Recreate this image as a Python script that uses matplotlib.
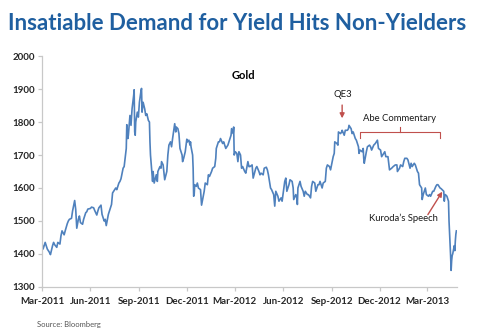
import matplotlib
matplotlib.use("Agg")
import matplotlib.pyplot as plt
import matplotlib.dates as mdates
import pandas as pd

plt.rcParams['font.family'] = ['Lato', 'DejaVu Sans']

# gold price (approx. every 2-3 trading days)
dates = [
    # 2011
    "2011-03-01", "2011-03-03", "2011-03-07", "2011-03-09", "2011-03-11", "2011-03-15", "2011-03-17",
    "2011-03-21", "2011-03-23", "2011-03-25", "2011-03-29", "2011-03-31",
    "2011-04-04", "2011-04-06", "2011-04-08", "2011-04-12", "2011-04-14", "2011-04-18", "2011-04-20",
    "2011-04-22", "2011-04-26", "2011-04-28", "2011-05-02",
    "2011-05-04", "2011-05-06", "2011-05-09", "2011-05-11", "2011-05-13", "2011-05-17", "2011-05-19",
    "2011-05-23", "2011-05-25", "2011-05-27",
    "2011-06-01", "2011-06-03", "2011-06-07", "2011-06-09", "2011-06-13", "2011-06-15", "2011-06-17",
    "2011-06-21", "2011-06-23", "2011-06-27", "2011-06-29", "2011-07-01",
    "2011-07-05", "2011-07-07", "2011-07-11", "2011-07-13", "2011-07-15", "2011-07-19", "2011-07-21",
    "2011-07-25", "2011-07-27", "2011-07-29",
    "2011-08-02", "2011-08-04", "2011-08-08", "2011-08-09", "2011-08-11", "2011-08-12", "2011-08-15",
    "2011-08-17", "2011-08-19", "2011-08-22", "2011-08-23", "2011-08-24", "2011-08-25", "2011-08-26",
    "2011-08-29", "2011-08-31", "2011-09-02",
    "2011-09-05", "2011-09-06", "2011-09-07", "2011-09-09", "2011-09-12", "2011-09-14", "2011-09-16",
    "2011-09-19", "2011-09-21", "2011-09-22", "2011-09-23", "2011-09-26", "2011-09-27", "2011-09-28",
    "2011-09-30",
    "2011-10-04", "2011-10-06", "2011-10-07", "2011-10-11", "2011-10-13", "2011-10-14", "2011-10-17",
    "2011-10-19", "2011-10-20", "2011-10-24", "2011-10-26", "2011-10-28", "2011-10-31",
    "2011-11-02", "2011-11-04", "2011-11-08", "2011-11-10", "2011-11-11", "2011-11-14", "2011-11-16",
    "2011-11-18", "2011-11-22", "2011-11-23", "2011-11-25", "2011-11-28", "2011-11-30",
    "2011-12-01", "2011-12-02", "2011-12-05", "2011-12-07", "2011-12-08", "2011-12-09", "2011-12-12",
    "2011-12-13", "2011-12-14", "2011-12-15", "2011-12-16", "2011-12-19", "2011-12-21", "2011-12-23",
    "2011-12-27", "2011-12-29",
    # 2012
    "2012-01-03", "2012-01-05", "2012-01-09", "2012-01-11", "2012-01-13", "2012-01-17", "2012-01-19",
    "2012-01-23", "2012-01-25", "2012-01-26", "2012-01-30",
    "2012-02-01", "2012-02-03", "2012-02-07", "2012-02-09", "2012-02-13", "2012-02-15", "2012-02-17",
    "2012-02-21", "2012-02-23", "2012-02-24", "2012-02-27", "2012-02-28", "2012-02-29",
    "2012-03-02", "2012-03-05", "2012-03-07", "2012-03-09", "2012-03-12", "2012-03-14", "2012-03-16",
    "2012-03-20", "2012-03-22", "2012-03-26", "2012-03-28", "2012-03-30",
    "2012-04-03", "2012-04-05", "2012-04-10", "2012-04-12", "2012-04-16", "2012-04-18", "2012-04-20",
    "2012-04-24", "2012-04-26", "2012-04-30",
    "2012-05-02", "2012-05-04", "2012-05-08", "2012-05-10", "2012-05-14", "2012-05-16", "2012-05-18",
    "2012-05-22", "2012-05-24", "2012-05-28", "2012-05-30", "2012-06-01",
    "2012-06-04", "2012-06-06", "2012-06-08", "2012-06-12", "2012-06-14", "2012-06-18", "2012-06-20",
    "2012-06-21", "2012-06-25", "2012-06-27", "2012-06-28", "2012-06-29",
    "2012-07-03", "2012-07-05", "2012-07-09", "2012-07-11", "2012-07-13", "2012-07-17", "2012-07-19",
    "2012-07-23", "2012-07-25", "2012-07-27", "2012-07-31",
    "2012-08-02", "2012-08-06", "2012-08-08", "2012-08-10", "2012-08-14", "2012-08-16", "2012-08-20",
    "2012-08-22", "2012-08-24", "2012-08-28", "2012-08-30",
    "2012-09-04", "2012-09-06", "2012-09-07", "2012-09-11", "2012-09-13", "2012-09-14", "2012-09-18",
    "2012-09-20", "2012-09-21", "2012-09-25", "2012-09-27",
    "2012-10-01", "2012-10-03", "2012-10-04", "2012-10-08", "2012-10-10", "2012-10-12", "2012-10-16",
    "2012-10-18", "2012-10-22", "2012-10-23", "2012-10-25", "2012-10-29", "2012-10-31",
    "2012-11-01", "2012-11-02", "2012-11-06", "2012-11-08", "2012-11-12", "2012-11-14", "2012-11-16",
    "2012-11-20", "2012-11-23", "2012-11-27", "2012-11-29",
    "2012-12-03", "2012-12-05", "2012-12-07", "2012-12-11", "2012-12-13", "2012-12-17", "2012-12-19",
    "2012-12-20", "2012-12-24", "2012-12-27", "2012-12-31",
    # 2013
    "2013-01-03", "2013-01-04", "2013-01-08", "2013-01-10", "2013-01-14", "2013-01-16", "2013-01-18",
    "2013-01-22", "2013-01-24", "2013-01-28", "2013-01-30",
    "2013-02-01", "2013-02-05", "2013-02-07", "2013-02-11", "2013-02-13", "2013-02-15", "2013-02-19",
    "2013-02-20", "2013-02-22", "2013-02-26", "2013-02-28",
    "2013-03-04", "2013-03-06", "2013-03-08", "2013-03-12", "2013-03-14", "2013-03-18", "2013-03-20",
    "2013-03-22", "2013-03-26", "2013-03-28",
    "2013-04-02", "2013-04-03", "2013-04-04", "2013-04-05", "2013-04-08", "2013-04-10", "2013-04-11",
    "2013-04-12", "2013-04-15", "2013-04-16", "2013-04-17", "2013-04-18", "2013-04-19", "2013-04-22",
    "2013-04-23", "2013-04-24", "2013-04-25", "2013-04-26",
]

prices = [
    # 2011
    1430, 1415, 1435, 1425, 1415, 1405, 1398, 1425, 1435, 1428, 1420, 1435,
    1430, 1455, 1470, 1458, 1470, 1492, 1500, 1505, 1508, 1530, 1562,
    1535, 1478, 1505, 1515, 1495, 1490, 1505, 1525, 1528, 1536,
    1538, 1542, 1540, 1532, 1518, 1530, 1540, 1548, 1520, 1500, 1505, 1486,
    1520, 1530, 1550, 1585, 1590, 1600, 1595, 1615, 1620, 1628,
    1660, 1665, 1720, 1792, 1750, 1760, 1820, 1790, 1840, 1880, 1898, 1770, 1760, 1800,
    1830, 1815, 1860,
    1895, 1902, 1830, 1860, 1840, 1820, 1825, 1805, 1800, 1740, 1700, 1640, 1620, 1650,
    1615,
    1640, 1620, 1650, 1665, 1660, 1680, 1670, 1640, 1625, 1650, 1700, 1730, 1740,
    1725, 1750, 1795, 1770, 1785, 1780, 1765, 1720, 1700, 1680, 1690, 1710, 1735,
    1748, 1740, 1745, 1730, 1740, 1725, 1700, 1660, 1575, 1580, 1610, 1605, 1615, 1600,
    1595, 1548,
    # 2012
    1590, 1615, 1610, 1640, 1635, 1650, 1660, 1665, 1690, 1720, 1740,
    1740, 1750, 1735, 1740, 1720, 1725, 1730, 1750, 1760, 1780, 1765, 1785, 1700,
    1710, 1705, 1680, 1710, 1700, 1660, 1665, 1650, 1645, 1680, 1665, 1665,
    1670, 1630, 1660, 1665, 1650, 1640, 1645, 1640, 1660, 1663,
    1655, 1640, 1600, 1595, 1580, 1545, 1590, 1575, 1560, 1570, 1560, 1585,
    1620, 1630, 1590, 1610, 1625, 1620, 1600, 1565, 1580, 1570, 1550, 1600,
    1620, 1605, 1590, 1575, 1590, 1580, 1580, 1570, 1605, 1620, 1615,
    1590, 1610, 1610, 1620, 1600, 1615, 1620, 1660, 1670, 1665, 1655,
    1695, 1705, 1740, 1735, 1730, 1770, 1765, 1770, 1775, 1760, 1775,
    1775, 1780, 1790, 1780, 1765, 1770, 1750, 1745, 1725, 1705, 1715, 1710, 1720,
    1690, 1675, 1710, 1725, 1730, 1725, 1715, 1730, 1735, 1745, 1720,
    1715, 1695, 1700, 1710, 1695, 1695, 1670, 1655, 1660, 1665, 1670,
    # 2013
    1670, 1650, 1660, 1670, 1665, 1680, 1690, 1690, 1685, 1660, 1675,
    1665, 1675, 1670, 1650, 1645, 1610, 1600, 1565, 1580, 1600, 1580,
    1575, 1580, 1575, 1590, 1590, 1605, 1610, 1610, 1600, 1598,
    1590, 1560, 1575, 1580, 1575, 1565, 1560, 1500, 1395, 1350, 1380, 1395, 1400, 1425,
    1410, 1440, 1460, 1470,
]

tick_dates = ["2011-03-01", "2011-06-01", "2011-09-01", "2011-12-01", "2012-03-01",
              "2012-06-01", "2012-09-01", "2012-12-01", "2013-03-01"]
tick_labels = ["Mar-2011", "Jun-2011", "Sep-2011", "Dec-2011", "Mar-2012",
               "Jun-2012", "Sep-2012", "Dec-2012", "Mar-2013"]

x = pd.to_datetime(dates)
d = lambda s: mdates.date2num(pd.Timestamp(s))

fig = plt.figure(figsize=(4.83, 3.34), dpi=100)
fig.patch.set_facecolor('white')
ax = fig.add_axes([0.087, 0.141, 0.859, 0.691])

ax.plot(x, prices, color='#4f81bd', lw=1.2)

ax.set_ylim(1300, 2000)
ax.set_yticks(range(1300, 2001, 100))
ax.set_xlim(d("2011-03-01"), d("2013-04-27"))
ax.set_xticks([d(t) for t in tick_dates])
ax.set_xticklabels(tick_labels)

for s in ['top', 'right']:
    ax.spines[s].set_visible(False)
for s in ['left', 'bottom']:
    ax.spines[s].set_color('#c8c8c8')
    ax.spines[s].set_linewidth(0.9)
ax.tick_params(axis='both', colors='#c8c8c8', length=3, width=0.9, labelsize=7, pad=2)
for lab in ax.get_xticklabels() + ax.get_yticklabels():
    lab.set_color('#262626')
    lab.set_fontweight('bold')
ax.tick_params(axis='x', pad=4)

# title and labels
fig.text(0.017, 0.93, "Insatiable Demand for Yield Hits Non-Yielders", fontsize=16,
         fontweight='bold', color='#1f5fa0', ha='left', va='center')
ax.text(d("2012-03-18"), 1942, "Gold", fontsize=8, fontweight='bold', ha='center', va='center')
fig.text(0.077, 0.027, "Source: Bloomberg", fontsize=5.5, color='#555555', ha='left', va='center')

red = '#c0504d'
ax.text(d("2012-09-22"), 1884, "QE3", fontsize=6.8, ha='center', va='center', color='#1a1a1a')
ax.annotate("", xy=(d("2012-09-21"), 1803), xytext=(d("2012-09-21"), 1860),
            arrowprops=dict(arrowstyle='-|>', color=red, lw=1.0, mutation_scale=7))

ax.text(d("2013-01-08"), 1810, "Abe Commentary", fontsize=6.8, ha='center', va='center', color='#1a1a1a')
b0, b1, bm = d("2012-10-25"), d("2013-03-25"), d("2013-01-08")
ax.plot([b0, b0, b1, b1], [1752, 1770, 1770, 1752], color=red, lw=0.8)
ax.plot([bm, bm], [1770, 1785], color=red, lw=0.8)

ax.text(d("2013-01-15"), 1509, "Kuroda\u2019s Speech", fontsize=6.8, ha='center', va='center', color='#1a1a1a')
ax.annotate("", xy=(d("2013-04-02"), 1596), xytext=(d("2013-02-28"), 1512),
            arrowprops=dict(arrowstyle='-|>', color=red, lw=1.0, mutation_scale=7))

fig.savefig("out.png", dpi=100)
